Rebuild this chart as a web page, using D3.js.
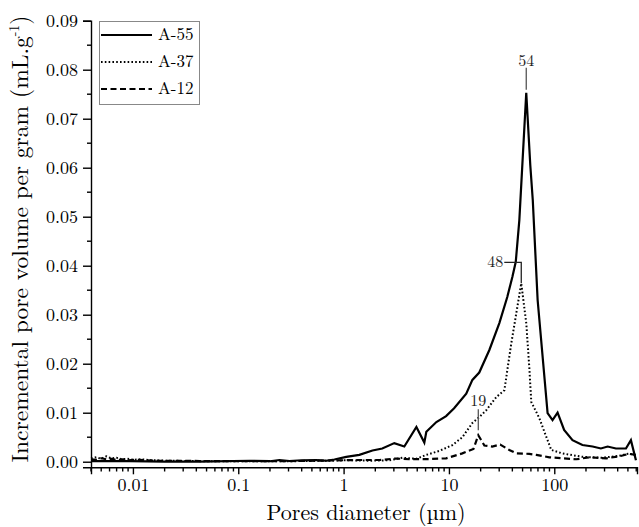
<!DOCTYPE html>
<html><head><meta charset="utf-8">
<script src="https://cdn.jsdelivr.net/npm/d3@7"></script>
<style>body{margin:0;background:#fff}svg{display:block}</style>
</head><body><svg id="c" width="639" height="527"></svg>
<script>
// ---- data ----
const seriesNames = ["A-55", "A-37", "A-12"];
const diamA55 = [0.0040,0.0060,0.0093,0.020,0.043,0.128,0.20,0.246,0.306,0.40,0.552,0.687,0.818,1.06,1.41,1.88,2.33,3.03,3.77,4.91,5.84,6.1,7.6,9.4,11.2,14.6,16.7,19.4,24.2,30.1,35.8,40.0,43.1,46.6,54.2,59.2,62.5,69.5,86.4,96.3,107.5,124,149,185,231,277,321,385,479,534,596];
const volA55  = [0.0001,0.0001,0.0001,0.0000,0.0000,0.0002,0.0001,0.00035,0.00015,0.0003,0.00035,0.0002,0.00045,0.0010,0.0014,0.0023,0.0027,0.0038,0.0031,0.0071,0.0039,0.0061,0.0081,0.0093,0.0109,0.0139,0.0167,0.0182,0.0228,0.0283,0.0336,0.0377,0.0408,0.0493,0.0753,0.0605,0.0534,0.0330,0.0099,0.0085,0.0100,0.0065,0.0044,0.0034,0.0031,0.0027,0.0031,0.0027,0.0027,0.0044,0.0003];
const diamA37 = [0.0040,0.0045,0.0050,0.0056,0.0062,0.0070,0.0078,0.0088,0.010,0.012,0.015,0.022,0.05,0.128,0.3,0.733,1.13,1.76,2.72,3.61,4.91,6.1,8.1,10.8,13.4,16.7,19.4,22.6,28.2,33.6,39.1,43.6,48.6,54.2,57.9,60.5,72.1,82.2,93.7,119,185,285,414,515,596];
const volA37  = [0.0007,0.0009,0.0006,0.0011,0.0007,0.0008,0.0005,0.0006,0.0004,0.0005,0.0003,0.0002,0.0001,0.0001,0.0001,0.0002,0.0003,0.0002,0.0003,0.0008,0.0006,0.0014,0.0022,0.0034,0.0050,0.0079,0.0091,0.0105,0.0132,0.0146,0.0242,0.0303,0.0364,0.0283,0.0193,0.0122,0.0089,0.0056,0.0024,0.0017,0.0010,0.0008,0.0012,0.0017,0.0012];
const diamA12 = [0.0040,0.0045,0.0050,0.0056,0.0063,0.0071,0.0080,0.0090,0.0105,0.013,0.0179,0.043,0.128,0.381,0.733,1.41,2.19,3.17,4.21,6.51,9.4,13.4,17.1,19.0,21.7,25.8,30.7,37.4,43.6,57.9,67.5,89.7,119,162,215,311,414,515,596];
const volA12  = [0.0005,0.0004,0.0007,0.0005,0.0006,0.0003,0.0005,0.0003,0.0004,0.0003,0.0002,0.00015,0.0001,0.00015,0.00025,0.00035,0.00035,0.00065,0.0005,0.00055,0.0007,0.0017,0.0026,0.0054,0.0033,0.0031,0.0035,0.0024,0.0017,0.0016,0.0014,0.0009,0.0007,0.0005,0.0009,0.0007,0.0011,0.0016,0.0014];
const xTickValues = [0.01, 0.1, 1, 10, 100];
const xTickLabels = ["0.01", "0.1", "1", "10", "100"];
const yTickValues = [0, 0.01, 0.02, 0.03, 0.04, 0.05, 0.06, 0.07, 0.08, 0.09];
const yTickLabels = ["0.00","0.01","0.02","0.03","0.04","0.05","0.06","0.07","0.08","0.09"];
const peakLabels = ["54", "48", "19"];

// ---- layout ----
const svg = d3.select("#c");
const FONT = "Latin Modern Roman";
const x = d3.scaleLog().domain([0.004, 610]).range([91, 637]);
const y = d3.scaleLinear().domain([-0.00114, 0.09]).range([467.3, 20.7]);

// y axis
const yAx = svg.append("g").attr("transform", "translate(91,0)")
  .call(d3.axisLeft(y).tickValues(yTickValues).tickFormat((d, i) => yTickLabels[i]).tickSizeOuter(0).tickSize(8).tickPadding(5));
yAx.attr("font-family", FONT).attr("font-size", 18);
yAx.selectAll("text").attr("font-family", FONT).attr("font-size", 18).attr("fill", "#000");
yAx.selectAll("line,path").attr("stroke", "#000").attr("stroke-width", 1.4);
const yMinor = d3.range(0.005, 0.09, 0.01);
svg.append("g").selectAll("line").data(yMinor).join("line")
  .attr("x1", 87).attr("x2", 91).attr("y1", d => y(d)).attr("y2", d => y(d))
  .attr("stroke", "#000").attr("stroke-width", 1.4);

// x axis
const xAx = svg.append("g").attr("transform", "translate(0,467.3)")
  .call(d3.axisBottom(x).tickValues(xTickValues).tickFormat((d, i) => xTickLabels[i]).tickSizeOuter(0).tickSize(7).tickPadding(4));
xAx.attr("font-family", FONT).attr("font-size", 18);
xAx.selectAll("text").attr("font-family", FONT).attr("font-size", 18).attr("fill", "#000");
xAx.selectAll("line,path").attr("stroke", "#000").attr("stroke-width", 1.4);
const xMinor = x.ticks().filter(d => !xTickValues.some(t => Math.abs(t - d) / t < 1e-6));
svg.append("g").selectAll("line").data(xMinor).join("line")
  .attr("x1", d => x(d)).attr("x2", d => x(d)).attr("y1", 467.3).attr("y2", 471.5)
  .attr("stroke", "#000").attr("stroke-width", 1.4);

// axis titles
svg.append("text").attr("x", 366).attr("y", 520).attr("text-anchor", "middle")
  .attr("font-family", FONT).attr("font-size", 22).text("Pores diameter (µm)");
const yt = svg.append("text").attr("transform", "translate(28,239) rotate(-90)").attr("text-anchor", "middle")
  .attr("font-family", FONT).attr("font-size", 23.5);
yt.append("tspan").attr("font-family", FONT).text("Incremental pore volume per gram (mL.g");
yt.append("tspan").attr("font-family", FONT).attr("dy", -9).attr("font-size", 14).text("-1");
yt.append("tspan").attr("font-family", FONT).attr("dy", 9).text(")");

// lines
const styles = [
  {dash: null, w: 2.2},
  {dash: "1.6,2.2", w: 2},
  {dash: "6,3.5", w: 2.2}
];
const series = [
  diamA55.map((d, i) => [d, volA55[i]]),
  diamA37.map((d, i) => [d, volA37[i]]),
  diamA12.map((d, i) => [d, volA12[i]])
];
const line = d3.line().x(d => x(d[0])).y(d => y(d[1]));
series.forEach((s, i) => {
  svg.append("path").datum(s).attr("d", line).attr("fill", "none")
    .attr("stroke", "#000").attr("stroke-width", styles[i].w)
    .attr("stroke-dasharray", styles[i].dash).attr("stroke-linejoin", "miter");
});

// peak annotations
const peaks = series.map(s => s.reduce((a, b) => b[1] > a[1] ? b : a));
const ann = svg.append("g");
function annText(xx, yy, anchor, t) {
  ann.append("text").attr("x", xx).attr("y", yy).attr("text-anchor", anchor)
    .attr("font-family", FONT).attr("font-size", 16).attr("fill", "#222").text(t);
}
// 54
{
  const px = x(peaks[0][0]), py = y(peaks[0][1]);
  ann.append("line").attr("x1", px).attr("x2", px).attr("y1", py - 3).attr("y2", py - 25).attr("stroke", "#555").attr("stroke-width", 1.3);
  annText(px, py - 27, "middle", peakLabels[0]);
}
// 48
{
  const px = x(peaks[1][0]), py = y(peaks[1][1]);
  ann.append("polyline").attr("points", `${px},${py} ${px},${py - 21} ${px - 17},${py - 21}`)
    .attr("fill", "none").attr("stroke", "#222").attr("stroke-width", 1.3);
  annText(px - 18, py - 16, "end", peakLabels[1]);
}
// 19
{
  const px = x(peaks[2][0]), py = y(peaks[2][1]);
  ann.append("line").attr("x1", px).attr("x2", px).attr("y1", py - 5).attr("y2", py - 26).attr("stroke", "#555").attr("stroke-width", 1.3);
  annText(px, py - 29, "middle", peakLabels[2]);
}

// legend
const lg = svg.append("g");
lg.append("rect").attr("x", 99.5).attr("y", 21.5).attr("width", 100).attr("height", 83)
  .attr("fill", "#fff").attr("stroke", "#888").attr("stroke-width", 1);
seriesNames.forEach((n, i) => {
  const ly = 35 + i * 27;
  lg.append("line").attr("x1", 101).attr("x2", 152).attr("y1", ly).attr("y2", ly)
    .attr("stroke", "#000").attr("stroke-width", styles[i].w).attr("stroke-dasharray", styles[i].dash);
  lg.append("text").attr("x", 158).attr("y", ly + 5).attr("font-family", FONT).attr("font-size", 17).text(n);
});
</script></body></html>
